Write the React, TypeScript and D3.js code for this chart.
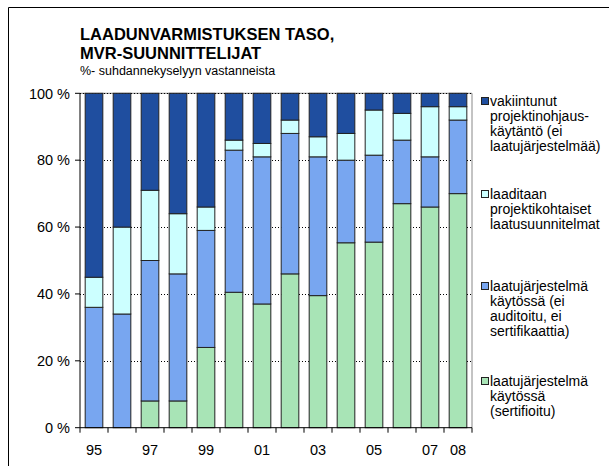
import React from 'react';
import * as d3 from 'd3';

const years = ['95', '96', '97', '98', '99', '00', '01', '02', '03', '04', '05', '06', '07', '08'];
const shownYears = ['95', '97', '99', '01', '03', '05', '07', '08'];

// osuudet (%) alhaalta ylös
const sertifioitu = [0, 0, 8, 8, 24, 40.5, 37, 46, 39.5, 55.3, 55.5, 67, 66, 70];
const eiAuditoitu = [36, 34, 42, 38, 35, 42.5, 44, 42, 41.5, 24.7, 26, 19, 15, 22];
const projektikohtaiset = [9, 26, 21, 18, 7, 3, 4, 4, 6, 8, 13.5, 8, 15, 4];
const vakiintunut = [55, 40, 29, 36, 34, 14, 15, 8, 13, 12, 5, 6, 4, 4];

const seriesKeys = ['sertifioitu', 'eiAuditoitu', 'projektikohtaiset', 'vakiintunut'];
const seriesColors = ['#A8E4B6', '#78A6F0', '#CCFFFF', '#1F4E9F'];
const legendLabels = [
  ['vakiintunut', 'projektinohjaus-', 'käytäntö (ei', 'laatujärjestelmää)'],
  ['laaditaan', 'projektikohtaiset', 'laatusuunnitelmat'],
  ['laatujärjestelmä', 'käytössä (ei', 'auditoitu, ei', 'sertifikaattia)'],
  ['laatujärjestelmä', 'käytössä', '(sertifioitu)'],
];
const legendColors = ['#1F4E9F', '#CCFFFF', '#78A6F0', '#A8E4B6'];
const legendTops = [97, 190, 282, 377];
const yTicks = [0, 20, 40, 60, 80, 100];

const font = '"Liberation Sans", Arial, sans-serif';

export default function App() {
  const width = 609;
  const height = 466;
  const left = 80, right = 472, top = 93.3, bottom = 427.7;

  const rows = years.map((y, i) => ({
    year: y,
    sertifioitu: sertifioitu[i],
    eiAuditoitu: eiAuditoitu[i],
    projektikohtaiset: projektikohtaiset[i],
    vakiintunut: vakiintunut[i],
  }));
  const stacked = d3.stack<any>().keys(seriesKeys)(rows);

  const x = d3.scaleBand().domain(years).range([left, right]).paddingInner(0.37).paddingOuter(0.185);
  const y = d3.scaleLinear().domain([0, 100]).range([bottom, top]);
  const step = x.step();

  return (
    <svg width={width} height={height} style={{ position: 'absolute', left: 0, top: 0, background: '#fff', overflow: 'hidden' }}>
      <rect x={0} y={0} width={width} height={height} fill="#fff" />
      {/* chart frame (right and bottom edges fall outside the picture) */}
      <line x1={8.5} x2={width} y1={7.5} y2={7.5} stroke="#000" />
      <line x1={8.5} x2={8.5} y1={7.5} y2={height} stroke="#000" />

      <text x={80} y={40} fontFamily={font} fontWeight="bold" fontSize={16.5}>LAADUNVARMISTUKSEN TASO,</text>
      <text x={80} y={59} fontFamily={font} fontWeight="bold" fontSize={16.5}>MVR-SUUNNITTELIJAT</text>
      <text x={80} y={75} fontFamily={font} fontSize={12.5}>%- suhdannekyselyyn vastanneista</text>

      {/* plot area border */}
      <line x1={right} x2={right} y1={top} y2={bottom} stroke="#888" strokeWidth={1} />
      <line x1={left} x2={right} y1={top} y2={top} stroke="#888" strokeWidth={1} />

      {/* gridlines */}
      {yTicks.filter(t => t > 0).map(t => (
        <line key={t} x1={left} x2={right} y1={Math.round(y(t)) + 0.5} y2={Math.round(y(t)) + 0.5}
          stroke="#000" strokeWidth={1} strokeDasharray="1,2" />
      ))}

      {/* bars */}
      {stacked.map((s, si) => (
        <g key={s.key}>
          {s.map((d, i) => (
            d[1] - d[0] > 0 ? (
              <rect key={i} x={x(years[i])} y={y(d[1])} width={x.bandwidth()} height={y(d[0]) - y(d[1])}
                fill={seriesColors[si]} stroke="#222" strokeWidth={1} />
            ) : null
          ))}
        </g>
      ))}

      {/* y axis */}
      <line x1={left} x2={left} y1={top} y2={bottom} stroke="#000" />
      {yTicks.map(t => (
        <g key={t}>
          <line x1={left - 5} x2={left} y1={y(t)} y2={y(t)} stroke="#000" />
          <text x={70} y={y(t)} dy="0.36em" textAnchor="end" fontFamily={font} fontSize={14.5}>{t} %</text>
        </g>
      ))}

      {/* x axis */}
      <line x1={left} x2={right} y1={bottom} y2={bottom} stroke="#000" />
      {d3.range(years.length + 1).map(i => (
        <line key={i} x1={left + i * step} x2={left + i * step} y1={bottom} y2={bottom + 5} stroke="#000" />
      ))}
      {shownYears.map(yr => (
        <text key={yr} x={(x(yr) as number) + x.bandwidth() / 2} y={455} textAnchor="middle"
          fontFamily={font} fontSize={14.5}>{yr}</text>
      ))}

      {/* legend */}
      {legendLabels.map((lines, li) => (
        <g key={li}>
          <rect x={481.5} y={legendTops[li] + 0.5} width={7} height={7} fill={legendColors[li]} stroke="#222" />
          {lines.map((ln, j) => (
            <text key={j} x={490} y={legendTops[li] + 4 + j * 15} dy="0.36em" fontFamily={font} fontSize={14}>{ln}</text>
          ))}
        </g>
      ))}
    </svg>
  );
}
